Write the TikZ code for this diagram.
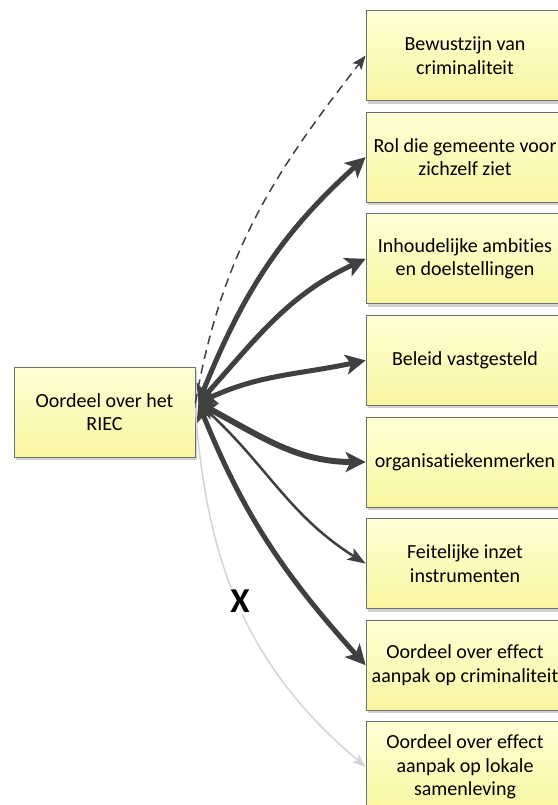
\documentclass[tikz,border=0pt]{standalone}
\usepackage{fontspec}
\setmainfont{Carlito}[Ligatures=NoCommon]
\usetikzlibrary{arrows.meta,shadows}
\definecolor{boxtop}{RGB}{255,255,214}
\definecolor{boxbot}{RGB}{249,246,160}
\definecolor{boxline}{RGB}{112,112,112}
\definecolor{linkdark}{RGB}{64,64,64}
\definecolor{linklight}{RGB}{212,212,212}
\tikzset{
  factor/.style={draw=boxline, line width=0.8pt, top color=boxtop, bottom color=boxbot,
    minimum width=198pt, minimum height=90pt, align=center, inner sep=0pt,
    font=\fontsize{20}{23.5}\selectfont,
    drop shadow={shadow xshift=2pt, shadow yshift=-3pt, fill=black!18, opacity=1}},
  heavy/.style={linkdark, line width=5pt,
    {Stealth[length=18pt,width=18pt,inset=4pt]}-{Stealth[length=20pt,width=20pt,inset=5pt]}},
  medium/.style={linkdark, line width=2.5pt,
    {Stealth[length=14pt,width=12pt,inset=3pt]}-{Stealth[length=18pt,width=13pt,inset=4pt]}},
  dashlink/.style={linkdark, line width=1.5pt, dash pattern=on 9pt off 6pt,
    -{Stealth[length=14pt,width=11pt,inset=3pt]}},
  lightlink/.style={linklight, line width=1.5pt, -{Stealth[length=13pt,width=10pt,inset=3pt]}}
}
\begin{document}
\begin{tikzpicture}[x=1pt,y=1pt]
\useasboundingbox (0,0) rectangle (557,805);
\node[factor, minimum width=181pt] (riec) at (104.5,393) {Oordeel over het\\RIEC};
\foreach \i/\t in {1/{Bewustzijn van\\criminaliteit},
                   2/{Rol die gemeente voor\\zichzelf ziet},
                   3/{Inhoudelijke ambities\\en doelstellingen},
                   4/{Beleid vastgesteld},
                   5/{organisatiekenmerken},
                   6/{Feitelijke inzet\\instrumenten},
                   7/{Oordeel over effect\\aanpak op criminaliteit},
                   8/{Oordeel over effect\\aanpak op lokale\\samenleving}}
  \node[factor] (b\i) at (465,{851-101.6*\i}) {\t};
% links
\draw[dashlink] ([yshift=9pt]riec.east) to[out=80,in=232] (b1.west);
\draw[heavy] ([xshift=3pt,yshift=9pt]riec.east) to[out=68,in=222] (b2.west);
\draw[heavy] ([xshift=3pt,yshift=9pt]riec.east) to[out=48,in=205] (b3.west);
\draw[heavy] ([xshift=3pt,yshift=9pt]riec.east) to[out=25,in=192] (b4.west);
\draw[heavy, line width=6pt] ([xshift=3pt,yshift=9pt]riec.east) to[out=-28,in=180] (b5.west);
\draw[medium] ([xshift=3pt,yshift=9pt]riec.east) to[out=-42,in=148] (b6.west);
\draw[heavy] ([xshift=3pt,yshift=9pt]riec.east) to[out=-68,in=132] (b7.west);
\draw[lightlink] ([yshift=4pt]riec.east) to[out=-86,in=140]
  node[pos=0.48, xshift=3pt, fill=white, text=black, inner sep=2pt, font=\bfseries\fontsize{35}{35}\selectfont] (xmark) {X} (b8.west);
\end{tikzpicture}
\end{document}
